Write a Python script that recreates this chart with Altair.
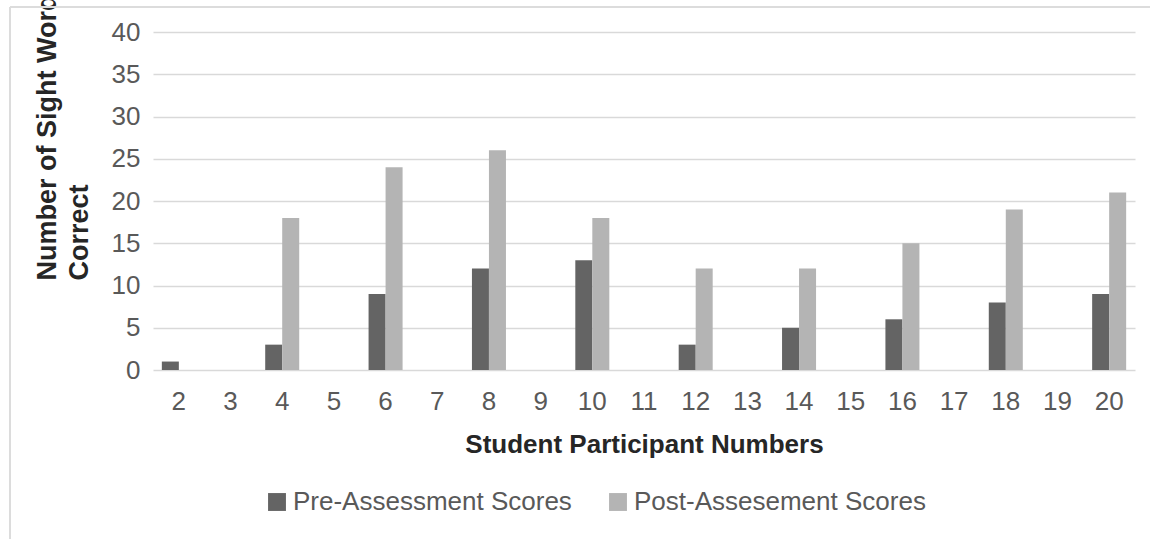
import altair as alt
import pandas as pd

# ---- data ----
participants = [str(n) for n in range(2, 21)]
groups = ["2", "4", "6", "8", "10", "12", "14", "16", "18", "20"]
pre_scores = [1, 3, 9, 12, 13, 3, 5, 6, 8, 9]
post_scores = [0, 18, 24, 26, 18, 12, 12, 15, 19, 21]
series = ["Pre-Assessment Scores", "Post-Assesement Scores"]
series_colors = ["#646464", "#b4b4b4"]
y_ticks = [0, 5, 10, 15, 20, 25, 30, 35, 40]

rows = []
for g, a, b in zip(groups, pre_scores, post_scores):
    if a > 0:
        rows.append({"participant": g, "series": series[0], "score": a})
    if b > 0:
        rows.append({"participant": g, "series": series[1], "score": b})
df = pd.DataFrame(rows)

FONT = "Liberation Sans"
LABEL_GRAY = "#595959"

bars = alt.Chart(df).mark_bar().encode(
    x=alt.X(
        "participant:N",
        scale=alt.Scale(domain=participants, paddingInner=0.342, paddingOuter=0.171),
        axis=alt.Axis(
            title="Student Participant Numbers",
            labelAngle=0,
            ticks=False,
            domain=False,
            grid=False,
            labelPadding=18,
            labelFontSize=26,
            labelColor=LABEL_GRAY,
            labelFont=FONT,
            titleFont=FONT,
            titleFontSize=26,
            titleFontWeight="bold",
            titleColor="#262626",
            titleY=74,
            titleBaseline="middle",
        ),
    ),
    xOffset=alt.XOffset("series:N", scale=alt.Scale(domain=series, paddingInner=0, paddingOuter=0)),
    y=alt.Y(
        "score:Q",
        scale=alt.Scale(domain=[0, 40], nice=False),
        axis=alt.Axis(
            values=y_ticks,
            title=["Number of Sight Words", "Correct"],
            ticks=False,
            domain=False,
            grid=True,
            gridColor="#d9d9d9",
            gridWidth=1.5,
            labelPadding=13,
            labelFontSize=26,
            labelColor=LABEL_GRAY,
            labelFont=FONT,
            titleFont=FONT,
            titleFontSize=27,
            titleFontWeight="bold",
            titleColor="#262626",
            titleAngle=270,
            titleAlign="left",
            titleBaseline="alphabetic",
            titleLineHeight=32,
            titleLimit=1000,
            titleX=-98,
            titleY=248,
        ),
    ),
    color=alt.Color(
        "series:N",
        scale=alt.Scale(domain=series, range=series_colors),
        legend=alt.Legend(
            orient="none",
            legendX=111,
            legendY=457,
            direction="horizontal",
            title=None,
            symbolType="square",
            symbolSize=320,
            symbolStrokeWidth=0,
            symbolOpacity=1,
            labelFontSize=26,
            labelColor=LABEL_GRAY,
            labelFont=FONT,
            labelOffset=3,
            labelLimit=600,
            columnPadding=33,
        ),
    ),
)

border_color = "#dcdcdc"
top_border = alt.Chart(df).mark_rule(color=border_color, strokeWidth=2).encode(
    x=alt.value(-143), x2=alt.value(1200), y=alt.value(-25)
)
left_border = alt.Chart(df).mark_rule(color=border_color, strokeWidth=2).encode(
    x=alt.value(-143), y=alt.value(-25), y2=alt.value(700)
)

chart = alt.layer(top_border, left_border, bars).properties(
    width=982,
    height=338,
    autosize=alt.AutoSizeParams(type="none"),
    padding={"left": 153, "top": 32, "right": 15, "bottom": 169},
    background="white",
).configure_view(stroke=None)

chart.save("out.html", embed_options={"renderer": "svg", "actions": False})
